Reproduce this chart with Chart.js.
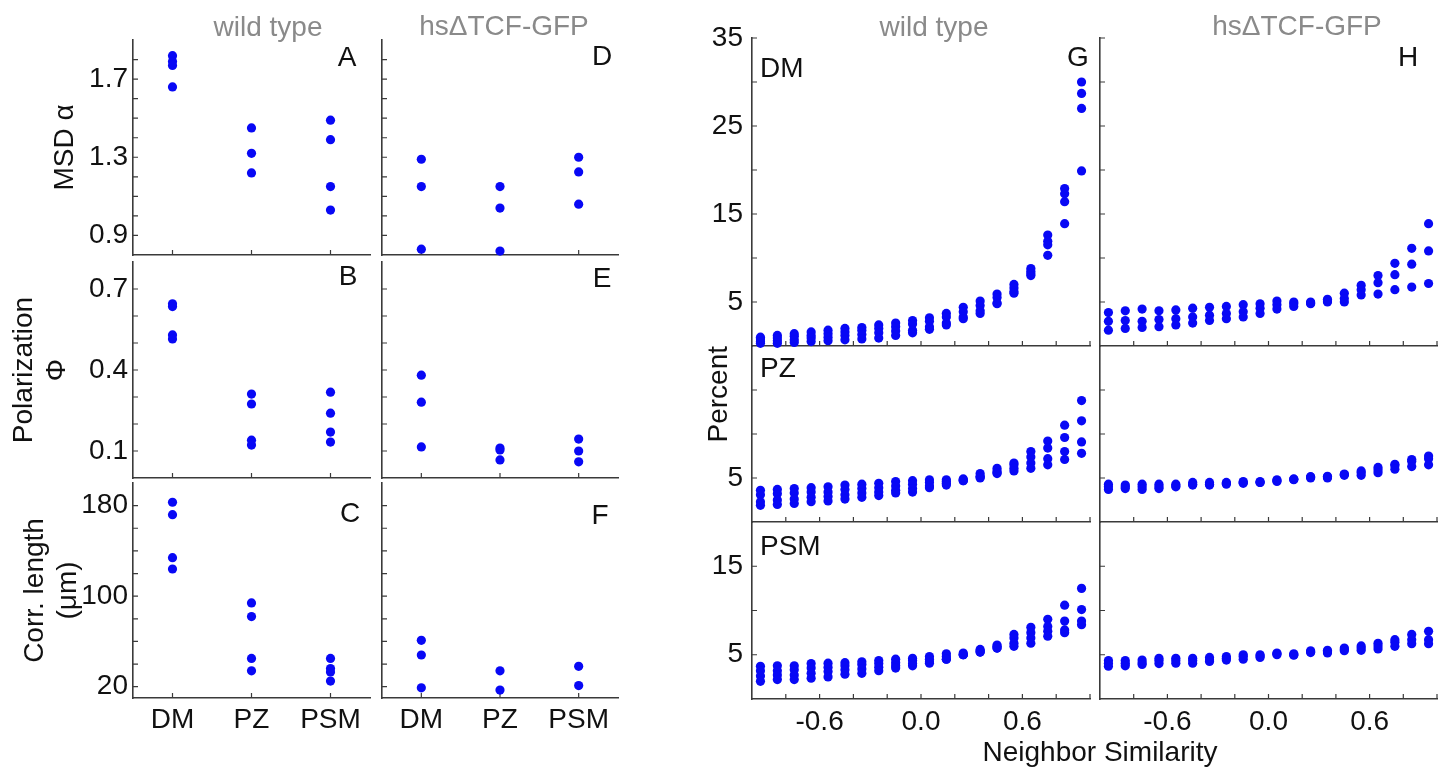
<!DOCTYPE html>
<html>
<head>
<meta charset="utf-8">
<script src="https://cdn.jsdelivr.net/npm/chart.js@4.4.0/dist/chart.umd.min.js"></script>
<style>
  body { margin: 0; background: #fff; }
  #wrap { position: relative; width: 1447px; height: 773px; }
  #wrap canvas { position: absolute; left: 0; top: 0; }
</style>
</head>
<body>
<div id="wrap"></div>
<script>
// categories for the left panels
const groups = ['DM', 'PZ', 'PSM'];

// left panels: one list of embryo values per group
const msdWT = [[1.82, 1.79, 1.77, 1.66], [1.45, 1.32, 1.22], [1.49, 1.39, 1.15, 1.03]];
const msdTCF = [[1.29, 1.15, 0.83], [1.15, 1.04, 0.82], [1.30, 1.225, 1.06]];
const polWT = [[0.645, 0.635, 0.53, 0.515], [0.311, 0.274, 0.14, 0.122], [0.318, 0.24, 0.17, 0.133]];
const polTCF = [[0.381, 0.281, 0.115], [0.111, 0.104, 0.067], [0.144, 0.10, 0.06]];
const corrWT = [[183, 172, 134, 124], [94, 82, 45, 34], [45, 36, 33, 25]];
const corrTCF = [[61, 48, 19], [34, 17], [38, 21]];

// right panels: neighbor similarity bins, values per bin
const simBins = [-0.95, -0.85, -0.75, -0.65, -0.55, -0.45, -0.35, -0.25, -0.15, -0.05,
  0.05, 0.15, 0.25, 0.35, 0.45, 0.55, 0.65, 0.75, 0.85, 0.95];

const dmWT = [
  [1.0, 0.8, 0.5, 0.3], [1.2, 0.9, 0.6, 0.3], [1.4, 1.1, 0.7, 0.4], [1.6, 1.2, 0.9, 0.5],
  [1.8, 1.4, 1.0, 0.6], [2.0, 1.6, 1.2, 0.7], [2.1, 1.8, 1.3, 0.8], [2.4, 2.0, 1.5, 0.9],
  [2.6, 2.2, 1.7, 1.2], [2.9, 2.5, 1.8, 1.5], [3.2, 2.8, 2.2, 1.9], [3.7, 3.3, 2.6, 2.4],
  [4.4, 3.9, 3.3, 3.1], [5.1, 4.6, 4.0, 3.7], [5.9, 5.5, 4.9, 4.8], [7.0, 6.6, 6.2, 6.0],
  [8.8, 8.5, 8.2, 8.0], [12.6, 11.9, 11.5, 10.3], [17.9, 17.3, 16.4, 13.9], [30.0, 28.7, 27.0, 19.9]
];
const dmTCF = [
  [3.8, 2.8, 1.8], [4.0, 2.9, 2.0], [4.2, 2.8, 2.1], [4.0, 3.0, 2.2], [4.1, 3.1, 2.4],
  [4.3, 3.3, 2.6], [4.4, 3.5, 2.9], [4.5, 3.7, 3.1], [4.7, 3.9, 3.3], [4.8, 4.3, 3.7],
  [5.1, 4.7, 4.2], [5.0, 4.8, 4.5], [5.0, 4.9, 4.8], [5.3, 5.1, 5.0], [6.0, 5.4, 5.0],
  [6.9, 6.4, 5.8], [8.0, 7.2, 5.9], [9.4, 8.1, 6.4], [11.1, 9.3, 6.7], [13.9, 10.8, 7.1]
];
const pzWT = [
  [3.6, 3.1, 2.3, 1.9], [3.7, 3.2, 2.5, 2.0], [3.8, 3.3, 2.6, 2.1], [3.9, 3.4, 2.8, 2.3],
  [4.0, 3.4, 2.9, 2.4], [4.2, 3.7, 3.1, 2.6], [4.3, 3.8, 3.3, 2.8], [4.4, 3.9, 3.4, 3.0],
  [4.6, 4.1, 3.6, 3.3], [4.7, 4.3, 3.8, 3.4], [4.8, 4.5, 4.1, 3.9], [4.8, 4.6, 4.4, 4.2],
  [4.9, 4.8, 4.7, 4.7], [5.5, 5.2, 5.1, 5.0], [6.1, 5.8, 5.6, 5.5], [6.7, 6.5, 6.1, 5.8],
  [8.0, 7.4, 6.7, 6.1], [9.2, 8.4, 7.2, 6.5], [11.0, 9.6, 8.0, 7.1], [13.8, 11.5, 9.1, 7.8]
];
const pzTCF = [
  [4.3, 4.0, 3.7], [4.2, 4.0, 3.8], [4.3, 4.0, 3.7], [4.3, 4.0, 3.8], [4.3, 4.1, 4.0],
  [4.5, 4.3, 4.2], [4.5, 4.3, 4.2], [4.5, 4.4, 4.3], [4.6, 4.5, 4.4], [4.6, 4.5, 4.5],
  [4.8, 4.7, 4.6], [4.9, 4.85, 4.8], [5.15, 5.1, 5.0], [5.2, 5.1, 5.0], [5.45, 5.4, 5.3],
  [5.8, 5.6, 5.3], [6.2, 5.9, 5.6], [6.55, 6.4, 6.0], [7.1, 6.9, 6.3], [7.5, 7.2, 6.5]
];
const psmWT = [
  [3.7, 3.2, 2.6, 2.0], [3.75, 3.2, 2.7, 2.2], [3.75, 3.3, 2.7, 2.2], [4.0, 3.5, 2.9, 2.35],
  [4.05, 3.6, 3.1, 2.5], [4.1, 3.75, 3.3, 2.8], [4.2, 3.9, 3.4, 2.9], [4.35, 4.0, 3.6, 3.2],
  [4.5, 4.1, 3.75, 3.5], [4.6, 4.35, 4.0, 3.75], [4.8, 4.5, 4.2, 4.05], [5.1, 4.8, 4.5, 4.5],
  [5.2, 5.0, 5.0, 5.0], [5.6, 5.45, 5.3, 5.3], [6.1, 5.95, 5.75, 5.75], [7.3, 6.9, 6.3, 5.95],
  [8.1, 7.5, 6.9, 6.3], [9.0, 8.2, 7.65, 7.1], [10.6, 8.8, 7.8, 7.5], [12.5, 10.1, 8.8, 8.4]
];
const psmTCF = [
  [4.35, 4.05, 3.7], [4.35, 4.05, 3.75], [4.4, 4.1, 3.9], [4.6, 4.35, 4.0], [4.6, 4.35, 4.05],
  [4.6, 4.35, 4.05], [4.7, 4.4, 4.25], [4.8, 4.6, 4.4], [5.0, 4.8, 4.5], [5.0, 4.85, 4.7],
  [5.2, 5.1, 5.0], [5.1, 5.0, 4.95], [5.45, 5.35, 5.25], [5.5, 5.35, 5.2], [5.75, 5.6, 5.45],
  [6.0, 5.75, 5.5], [6.3, 6.0, 5.65], [6.7, 6.4, 5.95], [7.3, 6.7, 6.25], [7.65, 6.7, 6.25]
];

// tick marks and labelled ticks
const msdTicks = [0.9, 1.0, 1.1, 1.2, 1.3, 1.4, 1.5, 1.6, 1.7, 1.8];
const msdLabels = [0.9, 1.3, 1.7];
const polTicks = [0.1, 0.2, 0.3, 0.4, 0.5, 0.6, 0.7];
const polLabels = [0.1, 0.4, 0.7];
const corrTicks = [20, 40, 60, 80, 100, 120, 140, 160, 180];
const corrLabels = [20, 100, 180];
const simTicks = [-0.8, -0.6, -0.4, -0.2, 0.0, 0.2, 0.4, 0.6, 0.8, 1.0];
const simLabels = [-0.6, 0.0, 0.6];
const dmTicks = [5, 10, 15, 20, 25, 30, 35];
const dmLabels = [5, 15, 25, 35];
const lowTicks = [5, 10, 15];
const pzLabels = [5];
const psmLabels = [5, 15];

const W = 1447, H = 773;
const BLUE = 'rgb(8,8,245)';
const AXIS = '#3a3a3a';
const GRAY = '#8a8a8a';
const FONT = "'Liberation Sans', Arial, sans-serif";
Chart.defaults.font.family = FONT;
Chart.defaults.font.size = 28;
Chart.defaults.color = '#111';

const wrap = document.getElementById('wrap');

// short tick marks drawn into the plot, like the original figure
const inTicks = {
  id: 'inTicks',
  beforeDatasetsDraw(chart) {
    const {ctx, chartArea: a, scales: {x, y}} = chart;
    ctx.save();
    ctx.strokeStyle = AXIS;
    ctx.lineWidth = 1.2;
    ctx.beginPath();
    x.ticks.forEach((t, i) => {
      const p = x.getPixelForTick(i);
      ctx.moveTo(p, a.bottom); ctx.lineTo(p, a.bottom - 5);
    });
    y.ticks.forEach((t, i) => {
      const p = y.getPixelForTick(i);
      ctx.moveTo(a.left, p); ctx.lineTo(a.left + 5, p);
    });
    ctx.stroke();
    ctx.restore();
  }
};

const notes = [
  {text: 'wild type', x: 268, y: 28, color: GRAY},
  {text: 'hs\u0394TCF-GFP', x: 504, y: 27, color: GRAY},
  {text: 'wild type', x: 934, y: 28, color: GRAY},
  {text: 'hs\u0394TCF-GFP', x: 1297, y: 27, color: GRAY},
  {text: 'A', x: 347, y: 58}, {text: 'D', x: 602, y: 57},
  {text: 'B', x: 348, y: 277}, {text: 'E', x: 602, y: 279},
  {text: 'C', x: 350, y: 514}, {text: 'F', x: 600, y: 516},
  {text: 'G', x: 1078, y: 58}, {text: 'H', x: 1408, y: 58},
  {text: 'DM', x: 760, y: 69, align: 'left'},
  {text: 'PZ', x: 760, y: 369, align: 'left'},
  {text: 'PSM', x: 760, y: 547, align: 'left'},
  {text: 'Neighbor Similarity', x: 1100, y: 753}
];
const notesPlugin = {
  id: 'notes',
  afterDraw(chart) {
    const ctx = chart.ctx;
    notes.forEach(n => {
      ctx.save();
      ctx.font = '28px ' + FONT;
      ctx.fillStyle = n.color || '#111';
      ctx.textAlign = n.align || 'center';
      ctx.textBaseline = 'middle';
      ctx.fillText(n.text, n.x, n.y);
      ctx.restore();
    });
  }
};

const hit = (list, v) => list.some(l => Math.abs(l - v) < 1e-6);

function catX(show) {
  return {
    type: 'category', labels: groups, offset: true,
    grid: { display: false, drawTicks: false },
    border: { display: true, color: AXIS, width: 1.6 },
    ticks: { display: show, autoSkip: false, maxRotation: 0, padding: 5 }
  };
}

function simX(show) {
  return {
    type: 'linear', min: -1, max: 1,
    afterBuildTicks: s => { s.ticks = simTicks.map(v => ({ value: v })); },
    grid: { display: false, drawTicks: false },
    border: { display: true, color: AXIS, width: 1.6 },
    ticks: { display: show, autoSkip: false, maxRotation: 0, padding: 6,
      callback: v => hit(simLabels, v) ? v.toFixed(1) : '' }
  };
}

function linY(min, max, tickVals, labelVals, digits, show, title, pad) {
  return {
    type: 'linear', min: min, max: max,
    afterBuildTicks: s => { s.ticks = tickVals.map(v => ({ value: v })); },
    grid: { display: false, drawTicks: false },
    border: { display: true, color: AXIS, width: 1.6 },
    ticks: { display: show, autoSkip: false, padding: pad || 5,
      callback: v => hit(labelVals, v) ? v.toFixed(digits) : '' },
    title: title || { display: false }
  };
}

function makeChart(area, xOpts, yOpts, points, extra) {
  const canvas = document.createElement('canvas');
  canvas.width = W;
  canvas.height = H;
  wrap.appendChild(canvas);
  xOpts.afterFit = s => { s.height = H - area.b; };
  yOpts.afterFit = s => { s.width = area.l; };
  return new Chart(canvas, {
    type: 'scatter',
    data: {
      datasets: [{
        data: points,
        pointRadius: 4.6,
        pointBackgroundColor: BLUE,
        pointBorderWidth: 0,
        clip: false
      }]
    },
    options: {
      responsive: false,
      animation: false,
      events: [],
      layout: { padding: { left: 0, top: area.t, right: W - area.r, bottom: 0 } },
      scales: { x: xOpts, y: yOpts },
      plugins: { legend: { display: false }, tooltip: { enabled: false } }
    },
    plugins: extra ? [inTicks, extra] : [inTicks]
  });
}

const catPoints = vals => groups.flatMap((g, i) => vals[i].map(v => ({ x: g, y: v })));
const simPoints = vals => simBins.flatMap((b, i) => vals[i].map(v => ({ x: b, y: v })));

// left block
makeChart({l: 133, t: 40, r: 370, b: 255}, catX(false),
  linY(0.8, 1.9, msdTicks, msdLabels, 1, true,
    { display: true, text: 'MSD \u03b1', padding: { top: 48, bottom: 0 } }), catPoints(msdWT));
makeChart({l: 133, t: 262, r: 370, b: 478}, catX(false),
  linY(0, 0.8, polTicks, polLabels, 1, true,
    { display: true, text: ['Polarization', '\u03a6'], padding: { top: 7, bottom: 0 } }), catPoints(polWT));
makeChart({l: 133, t: 483, r: 370, b: 698}, catX(true),
  linY(10, 200, corrTicks, corrLabels, 0, true,
    { display: true, text: ['Corr. length', '(\u03bcm)'], padding: { top: 18, bottom: 0 } }), catPoints(corrWT));
makeChart({l: 382, t: 40, r: 618, b: 255}, catX(false),
  linY(0.8, 1.9, msdTicks, msdLabels, 1, false), catPoints(msdTCF));
makeChart({l: 382, t: 262, r: 618, b: 478}, catX(false),
  linY(0, 0.8, polTicks, polLabels, 1, false), catPoints(polTCF));
makeChart({l: 382, t: 483, r: 618, b: 698}, catX(true),
  linY(10, 200, corrTicks, corrLabels, 0, false), catPoints(corrTCF));

// right block
makeChart({l: 752, t: 38, r: 1090, b: 346}, simX(false),
  linY(0, 35, dmTicks, dmLabels, 0, true, null, 9), simPoints(dmWT));
makeChart({l: 752, t: 346, r: 1090, b: 522}, simX(false),
  linY(0, 20, lowTicks, pzLabels, 0, true,
    { display: true, text: 'Percent', align: 'end', padding: { top: 702, bottom: 0 } }, 9), simPoints(pzWT));
makeChart({l: 752, t: 522, r: 1090, b: 699}, simX(true),
  linY(0, 20, lowTicks, psmLabels, 0, true, null, 9), simPoints(psmWT));
makeChart({l: 1100, t: 38, r: 1437, b: 346}, simX(false),
  linY(0, 35, dmTicks, dmLabels, 0, false), simPoints(dmTCF));
makeChart({l: 1100, t: 346, r: 1437, b: 522}, simX(false),
  linY(0, 20, lowTicks, pzLabels, 0, false), simPoints(pzTCF));
makeChart({l: 1100, t: 522, r: 1437, b: 699}, simX(true),
  linY(0, 20, lowTicks, psmLabels, 0, false), simPoints(psmTCF), notesPlugin);
</script>
</body>
</html>
